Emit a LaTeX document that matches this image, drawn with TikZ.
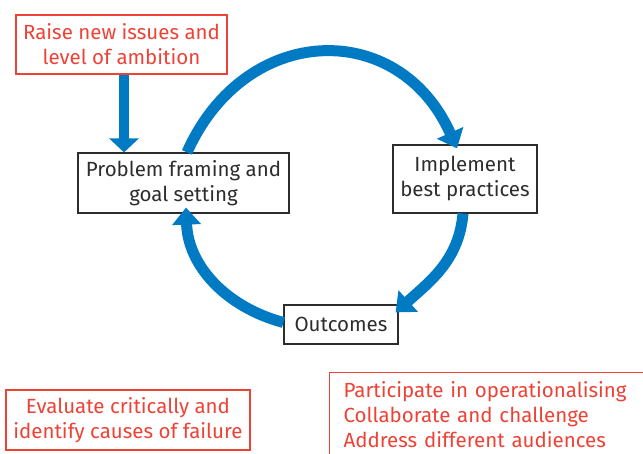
\documentclass[tikz,border=0pt]{standalone}
\usepackage{fontspec}
\setmainfont{Fira Sans}
\usetikzlibrary{arrows.meta}
\definecolor{cycleblue}{RGB}{0,123,195}
\definecolor{notered}{RGB}{238,66,54}
\definecolor{boxtext}{RGB}{45,45,45}
\tikzset{
    plain-box/.style = {draw=boxtext, text=boxtext, line width=1.2pt, rectangle, align=center, inner sep=0pt},
    red-box/.style = {draw=notered, text=notered, line width=1.1pt, rectangle, align=center, inner sep=0pt},
    flow-arrow/.style = {draw=cycleblue, line width=11pt, -{Triangle[width=28pt,length=17pt]}},
}

\begin{document}
\begin{tikzpicture}[x=1pt,y=1pt,font=\fontsize{20.5}{25}\selectfont]
\clip (0,0) rectangle (643,454);
\node[red-box, minimum width=211pt, minimum height=59pt] (raise) at (121.5,409.5) {Raise new issues and\\level of ambition};
\node[plain-box, minimum width=211pt, minimum height=60pt] (frame) at (183.5,271) {Problem framing and\\goal setting};
\node[plain-box, minimum width=144pt, minimum height=68pt] (impl) at (465,275) {Implement\\best practices};
\node[plain-box, minimum width=114pt, minimum height=39pt] (outc) at (341,129.5) {Outcomes};
\node[red-box, minimum width=244pt, minimum height=60pt] (eval) at (128,34) {Evaluate critically and\\identify causes of failure};
\node[red-box, anchor=north west, align=left, text width=330pt, inner xsep=14pt, inner ysep=9pt] (part) at (329,82) {Participate in operationalising\\Collaborate and challenge\\Address different audiences};

% the cycle
\draw[flow-arrow, line width=10pt, -{Triangle[width=29pt,length=14pt]}] ([xshift=2.5pt]raise.south) -- ([xshift=2.5pt]raise.south |- frame.north);
\draw[flow-arrow] ([xshift=3.5pt]frame.north) to[out=66,in=114,looseness=1.35] ([xshift=-8pt,yshift=-4pt]impl.north);
\draw[flow-arrow] ([xshift=-2pt]impl.south) to[out=-95,in=42] ([xshift=-3pt,yshift=-8pt]outc.north east);
\draw[flow-arrow] ([yshift=2pt]outc.west) to[out=165,in=-88] ([xshift=2.5pt,yshift=6pt]frame.south);
\end{tikzpicture}
\end{document}
